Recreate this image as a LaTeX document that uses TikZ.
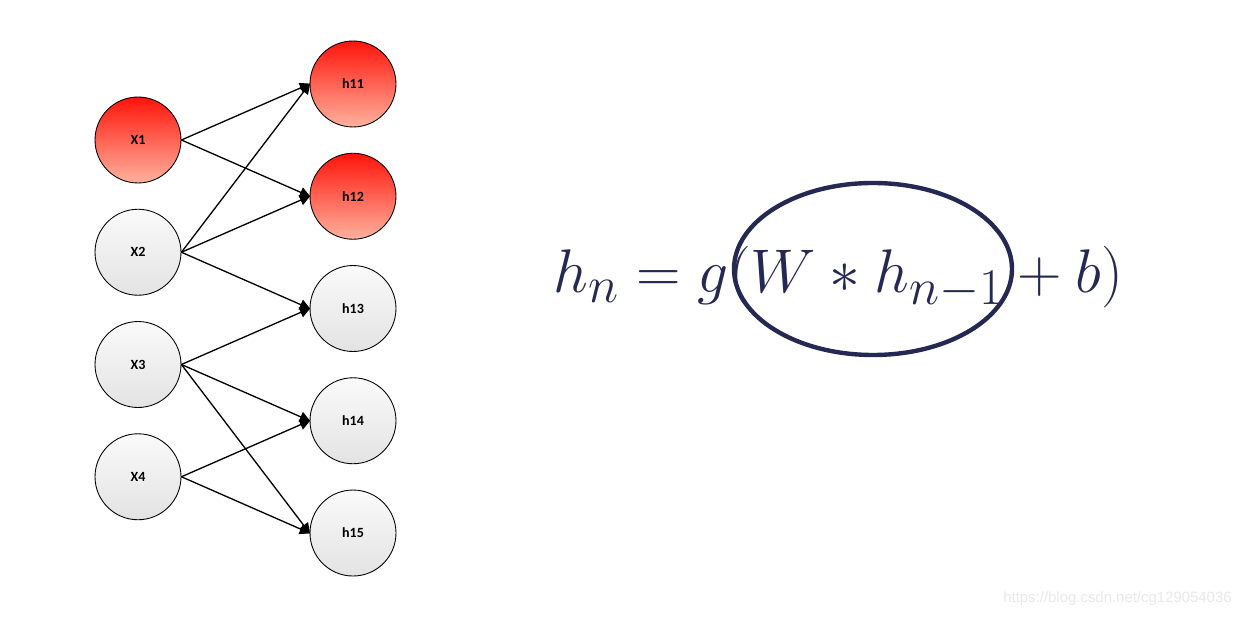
\documentclass[tikz,border=0pt]{standalone}
\usepackage{graphicx}
\usepackage{fontspec}
\usetikzlibrary{arrows.meta,positioning}
\newfontfamily\lblfont{Carlito}
\newfontfamily\wmfont{Liberation Sans}
\definecolor{navy}{RGB}{37,40,82}

\begin{document}
\begin{tikzpicture}[
    x=0.02cm, y=-0.02cm,
    node distance=0.508cm and 2.58cm,
    font=\lblfont\bfseries\fontsize{8}{9.5}\selectfont,
    unit/.style={circle, draw=black, line width=0.5pt, minimum size=1.72cm, inner sep=0pt, top color=gray!4, bottom color=gray!22},
    hot/.style={unit, top color={rgb,255:red,255;green,20;blue,10}, bottom color={rgb,255:red,255;green,178;blue,158}},
    arrow/.style={-{Triangle[length=6pt,width=6pt]}, line width=0.75pt, shorten >=-0.5pt}
]
\useasboundingbox (0,0) rectangle (1241,617);

% === INPUT LAYER ===
\node[hot] (x1) at (138,140) {X1};
\node[unit, below=of x1] (x2) {X2};
\node[unit, below=of x2] (x3) {X3};
\node[unit, below=of x3] (x4) {X4};

% === HIDDEN LAYER ===
\node[hot] (h11) at (353,84) {h11};
\node[hot, below=of h11] (h12) {h12};
\node[unit, below=of h12] (h13) {h13};
\node[unit, below=of h13] (h14) {h14};
\node[unit, below=of h14] (h15) {h15};

% === CONNECTIONS ===
\draw[arrow] (x1.east) -- (h11.west);
\draw[arrow] (x1.east) -- (h12.west);
\draw[arrow] (x2.east) -- (h11.west);
\draw[arrow] (x2.east) -- (h12.west);
\draw[arrow] (x2.east) -- (h13.west);
\draw[arrow] (x3.east) -- (h13.west);
\draw[arrow] (x3.east) -- (h14.west);
\draw[arrow] (x3.east) -- (h15.west);
\draw[arrow] (x4.east) -- (h14.west);
\draw[arrow] (x4.east) -- (h15.west);

% === FORMULA ===
\node[anchor=base west, inner sep=0pt, text=navy, font=\fontsize{24.88}{30}\selectfont] (rule) at (553,293)
    {\scalebox{1.41}{$h_n = g(W * h_{n-1} + b)$}};
\draw[navy, line width=2.5pt] (873,269) ellipse (139 and 86);

% watermark
\node[anchor=south east, inner sep=0pt, text=gray!18, font=\wmfont\fontsize{8.5}{10}\selectfont] (mark) at (1232,606)
    {https://blog.csdn.net/cg129054036};
\end{tikzpicture}
\end{document}
